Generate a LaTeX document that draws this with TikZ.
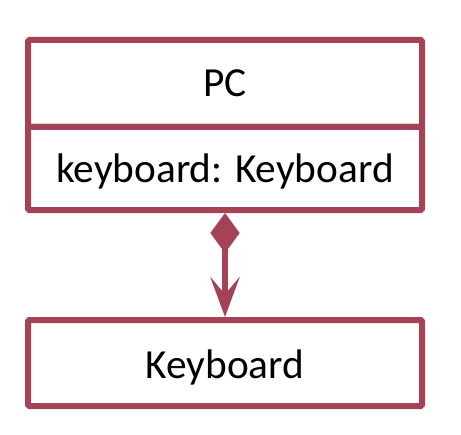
\documentclass[tikz,border=0pt]{standalone}
\usepackage{fontspec}
\setmainfont{Carlito}
\usetikzlibrary{arrows.meta}
\definecolor{umlred}{RGB}{166,66,86}
\begin{document}
\begin{tikzpicture}[x=0.75pt,y=-0.75pt,
  umlbox/.style={draw=umlred,line width=4.5pt,rounded corners=1pt,
    minimum width=295.5pt,inner sep=0pt,text height=20.25pt,text depth=0pt,
    font=\fontsize{31pt}{36pt}\selectfont},
  conn/.style={draw=umlred,fill=umlred,line width=4.5pt}]
\useasboundingbox (0,0) rectangle (461,435);
\node[umlbox,minimum height=65.25pt] (pc) at (225,83.5) {PC};
\node[umlbox,minimum height=62.25pt] (attr) at (225,168.5) {keyboard: Keyboard};
\node[umlbox,minimum height=64.5pt,text height=22.5pt] (kb) at (225,363) {Keyboard};
\draw[conn,{Diamond[length=30pt,width=22pt]}-{Stealth[length=30pt,width=22pt,inset=13pt]}]
  (attr.south) -- (kb.north);
\end{tikzpicture}
\end{document}
